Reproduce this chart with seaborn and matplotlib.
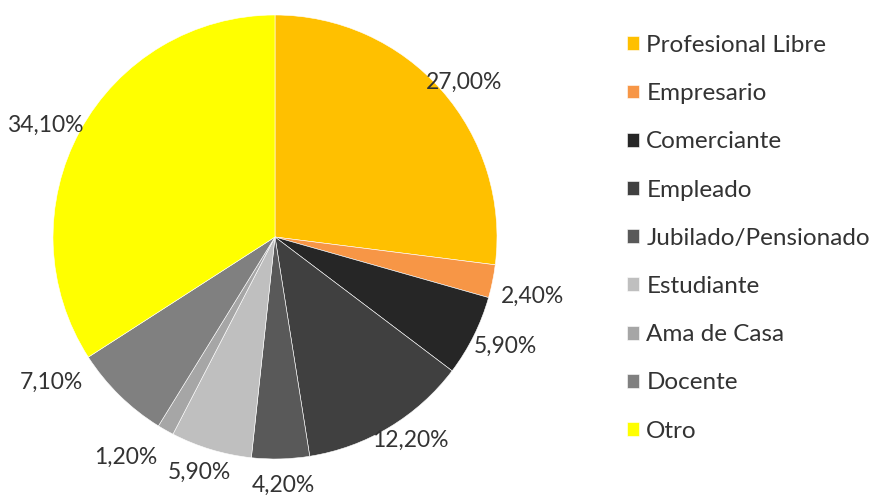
import numpy as np
import matplotlib
matplotlib.use("Agg")
import matplotlib.pyplot as plt
import seaborn as sns

categories = ["Profesional Libre", "Empresario", "Comerciante", "Empleado",
              "Jubilado/Pensionado", "Estudiante", "Ama de Casa", "Docente", "Otro"]
shares = [27.0, 2.4, 5.9, 12.2, 4.2, 5.9, 1.2, 7.1, 34.1]
colors = ["#FFC000", "#F79646", "#262626", "#404040", "#595959",
          "#BFBFBF", "#A6A6A6", "#808080", "#FFFF00"]

# label placement tweaks (radius factor, angle offset in degrees), Excel "best fit" look
label_r = [1.10, 1.19, 1.15, 1.10, 1.12, 1.115, 1.20, 1.20, 1.15]
label_dth = [-2, -1.5, 1.2, 2.6, 0.5, -1.0, -4.5, -12.5, 2.6]

sns.set_theme(style="white")
plt.rcParams["font.family"] = ["Lato", "DejaVu Sans"]

fig = plt.figure(figsize=(8.76, 4.95), dpi=100)
cx, cy, r = 275, 237, 222
lim = 1.2
ax = fig.add_axes([(cx - lim * r) / 876, (495 - cy - lim * r) / 495,
                   2 * lim * r / 876, 2 * lim * r / 495])

wedges, _ = ax.pie(shares, colors=colors, startangle=90, counterclock=False,
                   radius=1.0, wedgeprops=dict(edgecolor="white", linewidth=0.4))
ax.set_xlim(-lim, lim)
ax.set_ylim(-lim, lim)
ax.set_aspect("equal")
ax.axis("off")

for w, v, lr, dth in zip(wedges, shares, label_r, label_dth):
    ang = np.deg2rad((w.theta1 + w.theta2) / 2 + dth)
    ax.text(lr * np.cos(ang), lr * np.sin(ang), f"{v:.2f}%".replace(".", ","),
            ha="center", va="center", fontsize=16.5, color="#333333", clip_on=False)

fig.legend(wedges, categories, loc="upper left", bbox_to_anchor=(605 / 876, 1 - 13 / 495),
           frameon=False, fontsize=17.5, handlelength=0.5, handleheight=0.5,
           handletextpad=0.3, labelspacing=1.12, labelcolor="#333333")

fig.savefig("out.png", dpi=100)
